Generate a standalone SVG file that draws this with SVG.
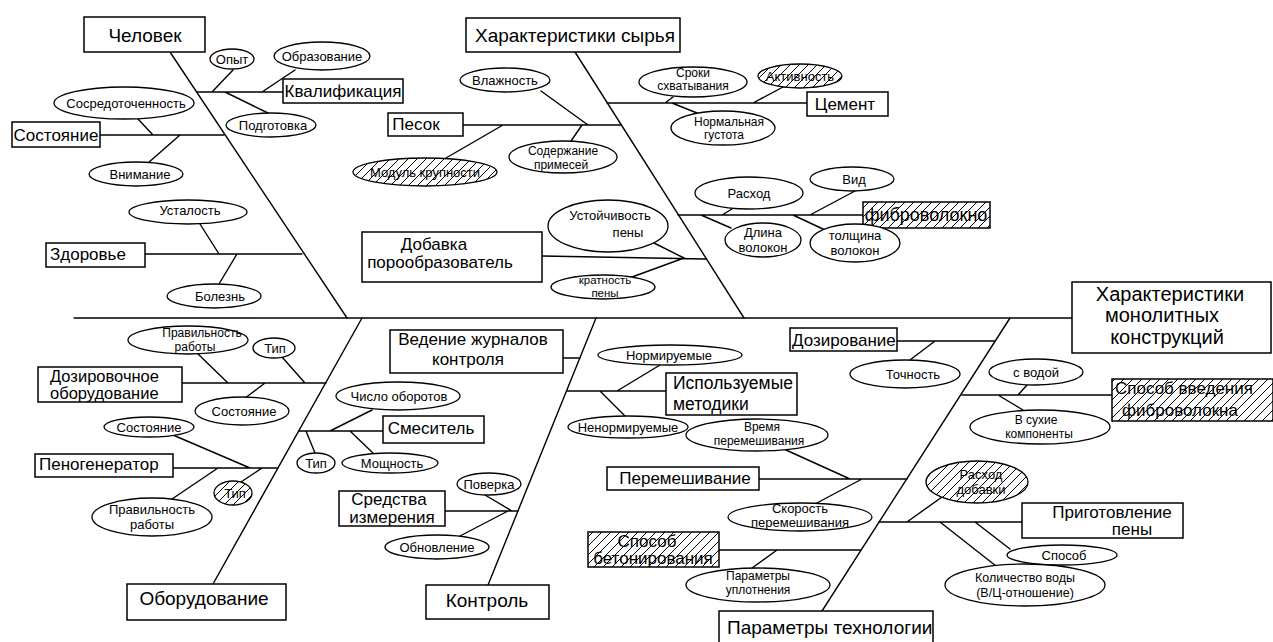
<svg xmlns="http://www.w3.org/2000/svg" width="1273" height="642" viewBox="0 0 1273 642">
<defs>
<pattern id="hatch" patternUnits="userSpaceOnUse" width="9" height="9">
<rect width="9" height="9" fill="#fff"/>
<path d="M0,9 L9,0 M-1,1 L1,-1 M8,10 L10,8" stroke="#000" stroke-width="1"/>
</pattern>
<style>
.ln{stroke:#000;stroke-width:1.4;fill:none;stroke-linecap:round}
.bx{fill:#fff;stroke:#000;stroke-width:1.5}
.el{fill:#fff;stroke:#000;stroke-width:1.3}
.ht{fill:url(#hatch)}
text{font-family:"Liberation Sans",Arial,sans-serif;fill:#000}
.s{font-size:13px;text-anchor:middle}
.t{font-size:12px;text-anchor:middle}
.m{font-size:17px}
.c{text-anchor:middle}
.l{font-size:19px}
</style>
</defs>
<rect width="1273" height="642" fill="#fff"/>
<g id="connectors" class="ln">
<path d="M74,318 H1072"/>
<path d="M170,52 L347,318"/>
<path d="M575,52 L744,318"/>
<path d="M213,584 L362,318"/>
<path d="M488,585 L596,318"/>
<path d="M822,611 L1010,318"/>
<path d="M197,92 H283 M212,92 L233,70 M262,92 L295,70 M225,92 L268,113"/>
<path d="M100,135 H224 M153,135 L138,119 M180,135 L148,163"/>
<path d="M145,254 H302 M219,254 L200,224 M237,254 L219,284"/>
<path d="M463,125 H621 M588,125 L541,91 M582,125 L571,141 M503,125 L446,158"/>
<path d="M607,103 H807 M665,103 L673,97 M753,103 L783,87 M672,103 L697,113"/>
<path d="M678,215 H863 M722,215 L732,209 M810,215 L855,191 M701,215 L731,228 M793,215 L825,230"/>
<path d="M542,256 L706,259 M684,258 L654,243 M684,258 L632,277"/>
<path d="M182,383 H326 M228,383 L198,354 M305,383 L282,357 M265,383 L245,398"/>
<path d="M173,468 H278 M250,468 L173,435 M218,468 L172,499 M262,468 L241,482"/>
<path d="M299,431 H383 M330,431 L372,410 M306,431 L315,453 M350,431 L373,453"/>
<path d="M563,358 H580"/>
<path d="M567,391 H666 M617,391 L660,365 M600,391 L625,416"/>
<path d="M445,511 H518 M512,511 L485,495 M508,511 L460,536"/>
<path d="M897,341 H995 M935,341 L910,360"/>
<path d="M962,395 H1112 M1018,395 L1027,385 M998,395 L1023,410"/>
<path d="M879,522 H1022 M907,522 L942,497 M975,522 L1010,549 M940,522 L996,566"/>
<path d="M759,479 H907 M850,479 L786,450 M862,479 L815,504"/>
<path d="M719,550 H861 M777,550 L752,568"/>
</g>
<g id="head"><rect class="bx" x="1072" y="282" width="199" height="71"/>
<text class="c" font-size="20" x="1170" y="301">Характеристики</text>
<text class="c" font-size="20" x="1162" y="322">монолитных</text>
<text class="c" font-size="20" x="1167" y="344">конструкций</text></g>

<g id="chelovek"><rect class="bx" x="84" y="17" width="121" height="35"/><text class="l c" x="145" y="42">Человек</text></g>
<g id="kvalifikaciya"><rect class="bx" x="283" y="79" width="120" height="24"/><text class="m c" x="343" y="97">Квалификация</text></g>
<g id="opyt"><ellipse class="el" cx="232" cy="59" rx="22" ry="10"/><text class="s" x="232" y="64">Опыт</text></g>
<g id="obrazovanie"><ellipse class="el" cx="322" cy="56" rx="48" ry="14"/><text class="s" x="322" y="61">Образование</text></g>
<g id="podgotovka"><ellipse class="el" cx="271" cy="125" rx="45" ry="12"/><text class="s" x="273" y="130">Подготовка</text></g>
<g id="sostoyanie"><rect class="bx" x="12" y="122" width="88" height="25"/><text class="m c" x="56" y="141">Состояние</text></g>
<g id="sosredotochennost"><ellipse class="el" cx="124" cy="103" rx="70" ry="16"/><text class="s" x="126" y="108">Сосредоточенность</text></g>
<g id="vnimanie"><ellipse class="el" cx="136" cy="174" rx="47" ry="12"/><text class="s" x="140" y="179">Внимание</text></g>
<g id="zdorovye"><rect class="bx" x="46" y="243" width="99" height="24"/><text class="m" x="50" y="260">Здоровье</text></g>
<g id="ustalost"><ellipse class="el" cx="188" cy="212" rx="59" ry="12"/><text class="s" x="190" y="215">Усталость</text></g>
<g id="bolezn"><ellipse class="el" cx="214" cy="296" rx="47" ry="12"/><text class="s" x="220" y="301">Болезнь</text></g>

<g id="syrye"><rect class="bx" x="466" y="18" width="214" height="34"/><text class="l c" x="575" y="42">Характеристики сырья</text></g>
<g id="pesok"><rect class="bx" x="388" y="113" width="75" height="23"/><text class="m c" x="416" y="130">Песок</text></g>
<g id="vlazhnost"><ellipse class="el" cx="505" cy="80" rx="45" ry="12"/><text class="s" x="505" y="85">Влажность</text></g>
<g id="primesi"><ellipse class="el" cx="563" cy="157" rx="54" ry="16"/><text class="t" x="563" y="155">Содержание</text><text class="t" x="561" y="169">примесей</text></g>
<g id="modul"><ellipse class="el ht" cx="425" cy="172" rx="72" ry="14"/><text class="s" x="425" y="177">Модуль крупности</text></g>
<g id="cement"><rect class="bx" x="807" y="92" width="81" height="24"/><text class="m c" x="845" y="110">Цемент</text></g>
<g id="sroki"><ellipse class="el" cx="693" cy="82" rx="54" ry="15"/><text class="t" x="693" y="77">Сроки</text><text class="t" x="693" y="90">схватывания</text></g>
<g id="aktivnost"><ellipse class="el ht" cx="800" cy="76" rx="42" ry="12"/><text class="s" x="800" y="81">Активность</text></g>
<g id="gustota"><ellipse class="el" cx="723" cy="128" rx="52" ry="17"/><text class="t" x="729" y="126">Нормальная</text><text class="t" x="724" y="139">густота</text></g>
<g id="fibro"><rect class="bx ht" x="863" y="202" width="127" height="26"/><text class="c" font-size="18" x="926" y="221">фиброволокно</text></g>
<g id="rashod"><ellipse class="el" cx="749" cy="193" rx="54" ry="16"/><text class="s" x="749" y="198">Расход</text></g>
<g id="vid"><ellipse class="el" cx="852" cy="179" rx="42" ry="12"/><text class="s" x="854" y="184">Вид</text></g>
<g id="dlina"><ellipse class="el" cx="763" cy="240" rx="38" ry="17"/><text class="s" x="763" y="237">Длина</text><text class="s" x="763" y="252">волокон</text></g>
<g id="tolshina"><ellipse class="el" cx="855" cy="243" rx="45" ry="19"/><text class="s" x="855" y="240">толщина</text><text class="s" x="855" y="255">волокон</text></g>
<g id="dobavka"><rect class="bx" x="362" y="232" width="180" height="50"/><text class="m c" x="434" y="250">Добавка</text><text class="m c" x="440" y="268">порообразователь</text></g>
<g id="ustoichivost"><ellipse class="el" cx="608" cy="226" rx="60" ry="26"/><text class="s" x="610" y="220">Устойчивость</text><text class="s" x="628" y="237">пены</text></g>
<g id="kratnost"><ellipse class="el" cx="603" cy="287" rx="52" ry="12"/><text class="c" font-size="11.5" x="605" y="284">кратность</text><text class="c" font-size="11.5" x="605" y="297">пены</text></g>

<g id="oborudovanie"><rect class="bx" x="127" y="584" width="159" height="36"/><text class="l c" x="204" y="605">Оборудование</text></g>
<g id="dozoborud"><rect class="bx" x="38" y="367" width="144" height="35"/><text font-size="16.5" x="50" y="382">Дозировочное</text><text font-size="16.5" x="50" y="399">оборудование</text></g>
<g id="pravrab1"><ellipse class="el" cx="188" cy="340" rx="60" ry="14"/><text class="t" x="202" y="337">Правильность</text><text class="t" x="195" y="351">работы</text></g>
<g id="tip1"><ellipse class="el" cx="274" cy="348" rx="21" ry="10"/><text class="s" x="275" y="353">Тип</text></g>
<g id="sost1"><ellipse class="el" cx="242" cy="411" rx="47" ry="14"/><text class="s" x="244" y="416">Состояние</text></g>
<g id="penogen"><rect class="bx" x="35" y="454" width="138" height="23"/><text class="m" x="39" y="470">Пеногенератор</text></g>
<g id="sost2"><ellipse class="el" cx="149" cy="427" rx="45" ry="10"/><text class="s" x="149" y="432">Состояние</text></g>
<g id="pravrab2"><ellipse class="el" cx="152" cy="517" rx="60" ry="19"/><text class="s" x="152" y="514">Правильность</text><text class="s" x="152" y="529">работы</text></g>
<g id="tip2"><ellipse class="el ht" cx="233" cy="493" rx="19" ry="12"/><text class="s" x="235" y="498">Тип</text></g>
<g id="smesitel"><rect class="bx" x="383" y="416" width="101" height="27"/><text class="m c" x="431" y="434">Смеситель</text></g>
<g id="chislo"><ellipse class="el" cx="398" cy="396" rx="62" ry="14"/><text class="s" x="399" y="401">Число оборотов</text></g>
<g id="tip3"><ellipse class="el" cx="316" cy="463" rx="19" ry="10"/><text class="s" x="316" y="468">Тип</text></g>
<g id="moshnost"><ellipse class="el" cx="390" cy="463" rx="48" ry="10"/><text class="s" x="392" y="468">Мощность</text></g>

<g id="kontrol"><rect class="bx" x="426" y="585" width="123" height="34"/><text class="l c" x="487" y="607">Контроль</text></g>
<g id="zhurnaly"><rect class="bx" x="390" y="330" width="173" height="43"/><text class="m c" x="473" y="345">Ведение журналов</text><text class="m c" x="468" y="365">контроля</text></g>
<g id="metodiki"><rect class="bx" x="666" y="373" width="131" height="42"/><text font-size="17.5" x="673" y="389">Используемые</text><text font-size="17.5" x="673" y="410">методики</text></g>
<g id="normir"><ellipse class="el" cx="670" cy="355" rx="72" ry="10"/><text class="s" x="669" y="360">Нормируемые</text></g>
<g id="nenormir"><ellipse class="el" cx="628" cy="427" rx="60" ry="11"/><text class="s" x="628" y="432">Ненормируемые</text></g>
<g id="sredstva"><rect class="bx" x="339" y="491" width="106" height="35"/><text class="m c" x="389" y="505">Средства</text><text class="m c" x="392" y="523">измерения</text></g>
<g id="poverka"><ellipse class="el" cx="489" cy="484" rx="32" ry="11"/><text class="s" x="489" y="489">Поверка</text></g>
<g id="obnovlenie"><ellipse class="el" cx="437" cy="547" rx="52" ry="12"/><text class="s" x="437" y="552">Обновление</text></g>

<g id="tehnologiya"><rect class="bx" x="719" y="611" width="214" height="40"/><text class="l" x="727" y="634">Параметры технологии</text></g>
<g id="dozirovanie"><rect class="bx" x="790" y="328" width="107" height="23"/><text class="m" x="792" y="346">Дозирование</text></g>
<g id="tochnost"><ellipse class="el" cx="905" cy="374" rx="55" ry="14"/><text class="s" x="913" y="379">Точность</text></g>
<g id="sposobvved"><rect class="bx ht" x="1112" y="379" width="161" height="42"/><text class="m" x="1115" y="394">Способ введения</text><text class="m c" x="1180" y="416">фиброволокна</text></g>
<g id="svodoy"><ellipse class="el" cx="1036" cy="372" rx="47" ry="13"/><text class="s" x="1036" y="377">с водой</text></g>
<g id="vsuhie"><ellipse class="el" cx="1040" cy="427" rx="70" ry="17"/><text class="t" x="1036" y="424">В сухие</text><text class="t" x="1039" y="438">компоненты</text></g>
<g id="prigotovlenie"><rect class="bx" x="1022" y="503" width="161" height="35"/><text class="m c" x="1112" y="518">Приготовление</text><text class="m c" x="1132" y="535">пены</text></g>
<g id="rashoddob"><ellipse class="el ht" cx="977" cy="482" rx="51" ry="21"/><text class="s" x="981" y="479">Расход</text><text class="s" x="981" y="494">добавки</text></g>
<g id="sposob"><ellipse class="el" cx="1062" cy="555" rx="55" ry="10"/><text class="s" x="1064" y="560">Способ</text></g>
<g id="kolvody"><ellipse class="el" cx="1025" cy="585" rx="80" ry="21"/><text class="c" font-size="12.5" x="1025" y="582">Количество воды</text><text class="c" font-size="12.5" x="1025" y="597">(В/Ц-отношение)</text></g>
<g id="peremeshivanie"><rect class="bx" x="607" y="467" width="152" height="23"/><text class="m c" x="685" y="484">Перемешивание</text></g>
<g id="vremya"><ellipse class="el" cx="757" cy="435" rx="71" ry="16"/><text class="t" x="762" y="431">Время</text><text class="t" x="759" y="445">перемешивания</text></g>
<g id="skorost"><ellipse class="el" cx="800" cy="517" rx="72" ry="14"/><text class="s" x="800" y="513">Скорость</text><text class="s" x="800" y="527">перемешивания</text></g>
<g id="betonirovanie"><rect class="bx ht" x="588" y="532" width="131" height="35"/><text class="m c" x="647" y="547">Способ</text><text class="m c" x="653" y="564">бетонирования</text></g>
<g id="uplotnenie"><ellipse class="el" cx="758" cy="585" rx="72" ry="17"/><text class="t" x="758" y="580">Параметры</text><text class="t" x="758" y="594">уплотнения</text></g>
</svg>
